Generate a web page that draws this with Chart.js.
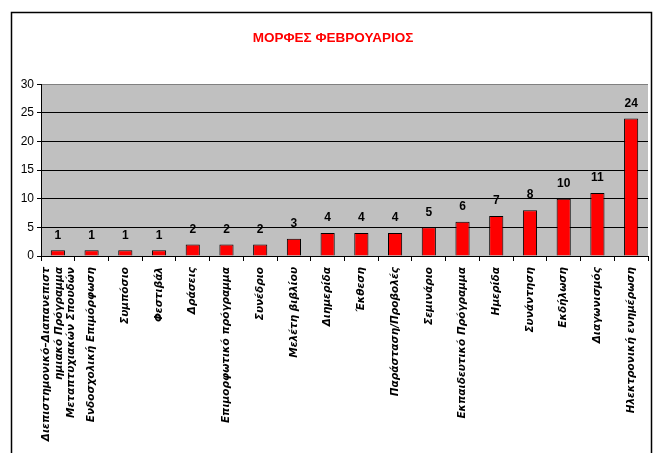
<!DOCTYPE html>
<html>
<head>
<meta charset="utf-8">
<script src="https://cdn.jsdelivr.net/npm/chart.js@4"></script>
<style>
    body { margin: 0; background: #fff; overflow: hidden; }
    #wrap { width: 657px; height: 453px; overflow: hidden; }
</style>
</head>
<body>
<div id="wrap"><canvas id="formsChart" width="657" height="453"></canvas></div>
<script>
const categories = [
    ["Διεπιστημονικό–Διαπανεπιστ", "ημιακό Πρόγραμμα", "Μεταπτυχιακών Σπουδών"],
    "Ενδοσχολική Επιμόρφωση",
    "Συμπόσιο",
    "Φεστιβάλ",
    "Δράσεις",
    "Επιμορφωτικό πρόγραμμα",
    "Συνέδριο",
    "Μελέτη βιβλίου",
    "Διημερίδα",
    "Έκθεση",
    "Παράσταση/Προβολές",
    "Σεμινάριο",
    "Εκπαιδευτικό Πρόγραμμα",
    "Ημερίδα",
    "Συνάντηση",
    "Εκδήλωση",
    "Διαγωνισμός",
    "Ηλεκτρονική ενημέρωση"
];
const counts = [1, 1, 1, 1, 2, 2, 2, 3, 4, 4, 4, 5, 6, 7, 8, 10, 11, 24];
const yTicks = [0, 5, 10, 15, 20, 25, 30];

// white page, outer frame and grey plot background
const backdrop = {
    id: "backdrop",
    beforeDraw(chart) {
        const c = chart.ctx;
        const a = chart.chartArea;
        c.save();
        c.fillStyle = "#fff";
        c.fillRect(0, 0, chart.width, chart.height);
        c.strokeStyle = "#000";
        c.lineWidth = 1.5;
        c.beginPath();
        c.moveTo(11.5, chart.height);
        c.lineTo(11.5, 12.5);
        c.lineTo(651.5, 12.5);
        c.lineTo(651.5, chart.height);
        c.stroke();
        c.fillStyle = "#c0c0c0";
        c.fillRect(a.left, a.top, a.right - a.left, a.bottom - a.top);
        c.restore();
    }
};

// value printed above each bar
const barValues = {
    id: "barValues",
    afterDatasetsDraw(chart) {
        const c = chart.ctx;
        const meta = chart.getDatasetMeta(0);
        c.save();
        c.fillStyle = "#000";
        c.font = "bold 12px 'Liberation Sans Narrow', 'Liberation Sans', Arial";
        c.textAlign = "center";
        c.textBaseline = "middle";
        meta.data.forEach((bar, i) => {
            c.fillText(String(counts[i]), bar.x, bar.y - 15);
        });
        c.restore();
    }
};

// vertical category names, multi-line names centred on their tick
const categoryNames = {
    id: "categoryNames",
    afterDraw(chart) {
        const c = chart.ctx;
        const x = chart.scales.x;
        const lineH = 12.5;
        c.save();
        c.fillStyle = "#000";
        c.font = "italic bold 10.5px 'DejaVu Sans', Verdana";
        c.textAlign = "right";
        c.textBaseline = "middle";
        categories.forEach((name, i) => {
            const lines = Array.isArray(name) ? name : [name];
            const cx = x.getPixelForValue(i) + (lines.length > 1 ? 1 : 0);
            lines.forEach((line, k) => {
                const off = (k - (lines.length - 1) / 2) * lineH;
                c.save();
                c.translate(cx + off, x.top + 11);
                c.rotate(-Math.PI / 2);
                c.fillText(line, 0, 0);
                c.restore();
            });
        });
        c.restore();
    }
};

const ctx = document.getElementById("formsChart").getContext("2d");
const formsChart = new Chart(ctx, {
    type: "bar",
    data: {
        labels: categories,
        datasets: [{
            data: counts,
            backgroundColor: "#ff0000",
            borderColor: "#000",
            borderWidth: 1,
            barPercentage: 0.84,
            categoryPercentage: 0.5
        }]
    },
    options: {
        responsive: false,
        animation: false,
        layout: { padding: { top: 0, right: 9, bottom: 0, left: 18 } },
        plugins: {
            legend: { display: false },
            tooltip: { enabled: false },
            title: {
                display: true,
                text: "ΜΟΡΦΕΣ ΦΕΒΡΟΥΑΡΙΟΣ",
                color: "#ff0000",
                font: { family: "'Liberation Sans Narrow', 'Liberation Sans', Arial", size: 13.5, weight: "bold", lineHeight: 1.2 },
                padding: { top: 30, bottom: 38 }
            }
        },
        scales: {
            x: {
                offset: true,
                grid: {
                    offset: true,
                    drawOnChartArea: false,
                    color: "#000",
                    tickLength: 5,
                    tickColor: "#000"
                },
                border: { color: "#000", width: 1 },
                ticks: { display: false },
                afterFit(scale) { scale.height = 197; }
            },
            y: {
                min: 0,
                max: 30,
                afterBuildTicks(scale) { scale.ticks = yTicks.map(v => ({ value: v })); },
                grid: {
                    color: c => c.tick && c.tick.value === 30 ? "#808080" : "#000",
                    tickLength: 4,
                    tickColor: "#000"
                },
                border: { color: "#000", width: 1 },
                ticks: {
                    padding: 3,
                    color: "#000",
                    font: { family: "'Liberation Sans', Arial", size: 12 }
                },
                afterFit(scale) { scale.width = 23; }
            }
        }
    },
    plugins: [backdrop, barValues, categoryNames]
});
</script>
</body>
</html>
